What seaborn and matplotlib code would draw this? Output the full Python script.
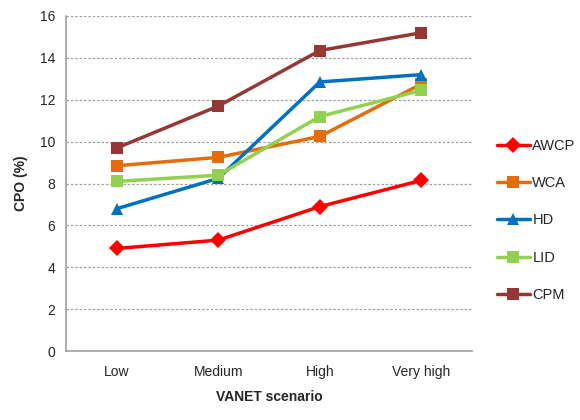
import matplotlib
matplotlib.use("Agg")
import matplotlib.pyplot as plt
import seaborn as sns
import pandas as pd
from matplotlib.ticker import FixedLocator

# values
scenarios = ["Low", "Medium", "High", "Very high"]
awcp = [4.9, 5.3, 6.9, 8.15]
wca = [8.85, 9.25, 10.25, 12.75]
hd = [6.8, 8.25, 12.85, 13.2]
lid = [8.1, 8.4, 11.2, 12.45]
cpm = [9.7, 11.7, 14.35, 15.2]

series = {"AWCP": awcp, "WCA": wca, "HD": hd, "LID": lid, "CPM": cpm}
colors = {"AWCP": "#FF0000", "WCA": "#E46C0A", "HD": "#0070C0",
          "LID": "#92D050", "CPM": "#953735"}
markers = {"AWCP": "D", "WCA": "s", "HD": "^", "LID": "s", "CPM": "s"}

rows = []
for name, vals in series.items():
    for i, v in enumerate(vals):
        rows.append({"pos": i, "scenario": scenarios[i], "method": name, "CPO": v})
df = pd.DataFrame(rows)

sns.set_style("white")
plt.rcParams["font.family"] = ["Liberation Sans", "DejaVu Sans"]

fig = plt.figure(figsize=(5.8, 4.2), dpi=100)
ax = fig.add_axes([0.114, 0.164, 0.7, 0.798])

sns.lineplot(data=df, x="pos", y="CPO", hue="method", style="method",
             palette=colors, markers=markers, dashes=False, linewidth=2.5,
             markersize=8, markeredgewidth=0, ax=ax)

ax.set_xlim(-0.5, 3.5)
ax.set_ylim(0, 16)
ax.set_yticks(range(0, 17, 2))
ax.set_xticks(range(4))
ax.set_xticklabels(scenarios)
ax.xaxis.set_minor_locator(FixedLocator([-0.5, 0.5, 1.5, 2.5, 3.5]))
ax.tick_params(axis="x", which="major", length=0, pad=10, labelsize=10)
ax.tick_params(axis="x", which="minor", length=5, color="#A0A0A0", direction="out")
ax.tick_params(axis="y", length=4, color="#A0A0A0", labelsize=10, pad=4)
ax.grid(axis="y", linestyle=(0, (2, 1.5)), color="#A0A0A0", linewidth=0.9)
ax.set_axisbelow(True)

for s in ["top", "right"]:
    ax.spines[s].set_visible(False)
for s in ["left", "bottom"]:
    ax.spines[s].set_color("#A0A0A0")
    ax.spines[s].set_linewidth(1.2)

ax.set_xlabel("VANET scenario", fontsize=10, fontweight="bold", labelpad=8)
ax.set_ylabel("CPO (%)", fontsize=10, fontweight="bold", labelpad=8)

ax.legend(title=None, frameon=False, loc="center left", bbox_to_anchor=(1.03, 0.39),
          fontsize=10.5, labelspacing=1.6, handlelength=2.2, handletextpad=0.2)

fig.savefig("out.png", dpi=100)
